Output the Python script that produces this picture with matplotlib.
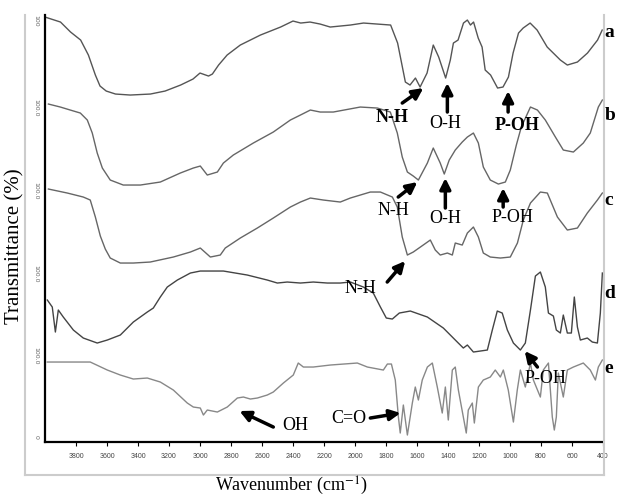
import matplotlib.pyplot as plt
from matplotlib.lines import Line2D

plt.rcParams['mathtext.fontset'] = 'stix'

# FTIR spectra, stacked (height above the bottom axis, arbitrary units)
a_wn = [4000, 3900, 3835, 3770, 3720, 3675, 3645, 3605, 3545, 3450, 3320, 3225, 3125, 3045, 3000,
        2945, 2920, 2880, 2825, 2740, 2610, 2480, 2400, 2350, 2290, 2225, 2160, 2030, 1945, 1770,
        1725, 1675, 1645, 1610, 1580, 1535, 1495, 1460, 1415, 1385, 1365, 1335, 1300, 1275, 1255,
        1235, 1205, 1180, 1160, 1125, 1080, 1045, 1010, 980, 945, 915, 870, 825, 760, 675,
        630, 565, 500, 435, 405]
a_t = [425, 420, 410, 402, 387, 367, 356, 351, 348, 347, 348, 351, 357, 363, 369,
       366, 368, 377, 387, 397, 407, 415, 421, 419, 420, 418, 415, 417, 419, 417,
       399, 360, 357, 364, 355, 369, 397, 385, 364, 382, 399, 402, 419, 422, 417,
       420, 404, 395, 372, 367, 354, 355, 365, 389, 409, 414, 419, 412, 395, 382,
       377, 380, 389, 402, 412]

b_wn = [3978, 3901, 3837, 3772, 3727, 3695, 3663, 3630, 3579, 3495, 3385, 3256, 3127, 3043, 2998,
        2953, 2888, 2849, 2785, 2656, 2527, 2417, 2352, 2288, 2224, 2140, 1966, 1856, 1772, 1727,
        1695, 1662, 1624, 1591, 1533, 1495, 1450, 1424, 1392, 1353, 1308, 1275, 1236, 1204, 1172,
        1127, 1075, 1030, 998, 959, 927, 868, 823, 772, 707, 656, 591, 527, 482, 430, 404]
b_t = [338, 335, 332, 329, 322, 309, 289, 274, 262, 257, 257, 260, 269, 274, 276,
       267, 270, 279, 287, 299, 310, 322, 327, 332, 330, 330, 335, 334, 330, 309,
       285, 270, 266, 262, 279, 294, 279, 268, 282, 292, 300, 305, 309, 299, 275,
       262, 258, 260, 272, 297, 315, 335, 332, 322, 305, 292, 290, 299, 309, 335, 342]

c_wn = [3978, 3856, 3753, 3708, 3675, 3643, 3611, 3579, 3514, 3430, 3321, 3172, 3062, 2998, 2933,
        2869, 2837, 2740, 2630, 2527, 2417, 2352, 2288, 2204, 2095, 2030, 1901, 1836, 1759, 1727,
        1695, 1662, 1624, 1578, 1514, 1482, 1450, 1404, 1372, 1353, 1308, 1275, 1236, 1204, 1172,
        1127, 1062, 998, 952, 914, 868, 804, 759, 694, 630, 565, 501, 436, 404]
c_t = [253, 249, 245, 242, 225, 206, 193, 184, 179, 179, 180, 185, 190, 194, 185,
       187, 194, 204, 214, 224, 235, 240, 244, 242, 240, 244, 250, 250, 245, 235,
       205, 187, 190, 195, 202, 192, 187, 189, 187, 199, 197, 209, 215, 205, 189,
       185, 184, 185, 199, 222, 239, 250, 249, 225, 212, 214, 229, 242, 249]

d_wn = [3985, 3953, 3933, 3920, 3914, 3882, 3817, 3753, 3663, 3598, 3514, 3430, 3340, 3301, 3256,
        3211, 3146, 3062, 2998, 2849, 2695, 2566, 2501, 2437, 2352, 2269, 2178, 2095, 2030, 1946,
        1882, 1836, 1798, 1759, 1714, 1643, 1533, 1430, 1340, 1301, 1275, 1236, 1146, 1114, 1082,
        1050, 1017, 978, 933, 901, 868, 836, 804, 772, 752, 720, 701, 675, 656, 630,
        604, 585, 565, 546, 501, 469, 436, 417, 404]
d_t = [142, 135, 110, 125, 132, 125, 112, 104, 99, 102, 107, 120, 130, 134, 145,
       155, 162, 169, 171, 171, 167, 162, 159, 160, 159, 160, 159, 159, 160, 155,
       149, 135, 124, 123, 129, 131, 125, 114, 100, 94, 97, 90, 92, 112, 131,
       129, 112, 99, 92, 99, 132, 166, 170, 155, 129, 126, 112, 109, 127, 109,
       109, 145, 115, 102, 104, 100, 99, 129, 169]

e_wn = [3985, 3708, 3598, 3514, 3430, 3340, 3256, 3172, 3082, 3043, 2998, 2978, 2953, 2888, 2824,
        2759, 2720, 2675, 2630, 2566, 2527, 2462, 2398, 2366, 2333, 2269, 2159, 1985, 1920, 1817,
        1791, 1765, 1740, 1720, 1708, 1688, 1662, 1630, 1611, 1591, 1566, 1533, 1501, 1469, 1437,
        1417, 1398, 1372, 1353, 1333, 1301, 1282, 1269, 1243, 1230, 1204, 1172, 1127, 1095, 1062,
        1043, 1011, 978, 953, 933, 901, 868, 849, 804, 785, 752, 727, 714, 701, 688,
        656, 630, 591, 527, 482, 449, 430, 404]
e_t = [80, 80, 72, 67, 63, 64, 60, 52, 39, 35, 34, 27, 32, 30, 35,
       44, 45, 43, 44, 47, 50, 59, 67, 79, 75, 75, 77, 79, 75, 72,
       78, 78, 62, 25, 9, 37, 7, 39, 55, 42, 62, 75, 79, 55, 29,
       55, 22, 72, 75, 52, 25, 9, 32, 39, 19, 55, 62, 65, 72, 65,
       72, 52, 20, 52, 72, 55, 79, 62, 45, 72, 79, 25, 12, 25, 69,
       45, 72, 75, 79, 72, 62, 75, 82]

spectra = [(a_wn, a_t, '#555555', 'a', 410),
           (b_wn, b_t, '#666666', 'b', 327),
           (c_wn, c_t, '#666666', 'c', 242),
           (d_wn, d_t, '#444444', 'd', 149),
           (e_wn, e_t, '#888888', 'e', 74)]

xticks = list(range(3800, 399, -200))
offset_labels = ['100', '100.0', '100.0', '100.0', '100.0', '0']
offset_pos = [427, 343, 260, 177, 95, 7]

serif = 'Liberation Serif'

fig = plt.figure(figsize=(6.18, 4.98), dpi=100)
ax = fig.add_axes([0.0728, 0.1124, 0.9029, 0.8574])

for wn, t, col, lab, ly in spectra:
    ax.plot(wn, t, color=col, lw=1.0)
    ax.text(1.003, ly / 427, lab, transform=ax.transAxes, fontsize=14, fontweight='bold',
            family=serif, va='center', ha='left')

ax.set_xlim(4000, 400)
ax.set_ylim(0, 427)
ax.set_xticks(xticks)
ax.set_xticklabels([str(v) for v in xticks], fontsize=5, family='Liberation Sans', color='#444444')
ax.tick_params(axis='x', direction='out', length=3, width=0.8, pad=5)
ax.set_yticks([])
for s in ['top', 'right']:
    ax.spines[s].set_visible(False)
ax.spines['left'].set_linewidth(1.6)
ax.spines['bottom'].set_linewidth(1.6)

for lbl, yp in zip(offset_labels, offset_pos):
    ax.text(-0.012, yp / 427, lbl, transform=ax.transAxes, rotation=270, fontsize=4.5,
            color='#666666', ha='right', va='top')

# peak annotations: (text, text pos, arrow tail, arrow head, bold)
notes = [('N-H', (1760, 325), (1695, 339), (1559, 354), True),
         ('O-H', (1417, 319), (1404, 330), (1404, 359), False),
         ('P-OH', (954, 317), (1012, 330), (1012, 351), True),
         ('N-H', (1753, 232), (1721, 245), (1598, 260), False),
         ('O-H', (1417, 224), (1417, 234), (1417, 264), False),
         ('P-OH', (986, 225), (1044, 235), (1044, 254), False),
         ('N-H', (1966, 154), (1792, 160), (1676, 181), False),
         ('P-OH', (772, 64), (823, 75), (905, 91), False),
         ('C=O', (2043, 24), (1901, 24), (1706, 29), False),
         ('OH', (2386, 17), (2527, 15), (2745, 31), False)]
for txt, tp, tail, head, bold in notes:
    ax.text(tp[0], tp[1], txt, fontsize=13, family=serif, ha='center', va='center',
            fontweight='bold' if bold else 'normal')
    ax.annotate('', xy=head, xytext=tail,
                arrowprops=dict(arrowstyle='-|>', lw=2.5, color='black', mutation_scale=16,
                                shrinkA=0, shrinkB=0))

fig.text(0.472, 0.024, 'Wavenumber (cm$^{-1}$)', fontsize=13, family=serif, ha='center', va='center')
fig.text(0.024, 0.505, 'Transmittance (%)', fontsize=15, family=serif, rotation=90,
         ha='center', va='center')

# light grey frame around the original instrument window
frame = dict(color='#cccccc', lw=1.5, transform=fig.transFigure)
fig.add_artist(Line2D([25 / 618, 25 / 618], [1 - 475 / 498, 1 - 15 / 498], **frame))
fig.add_artist(Line2D([25 / 618, 604 / 618], [1 - 475 / 498, 1 - 475 / 498], **frame))
fig.add_artist(Line2D([604 / 618, 604 / 618], [1 - 475 / 498, 1 - 15 / 498], **frame))

fig.savefig('out.png', dpi=100, facecolor='white')
